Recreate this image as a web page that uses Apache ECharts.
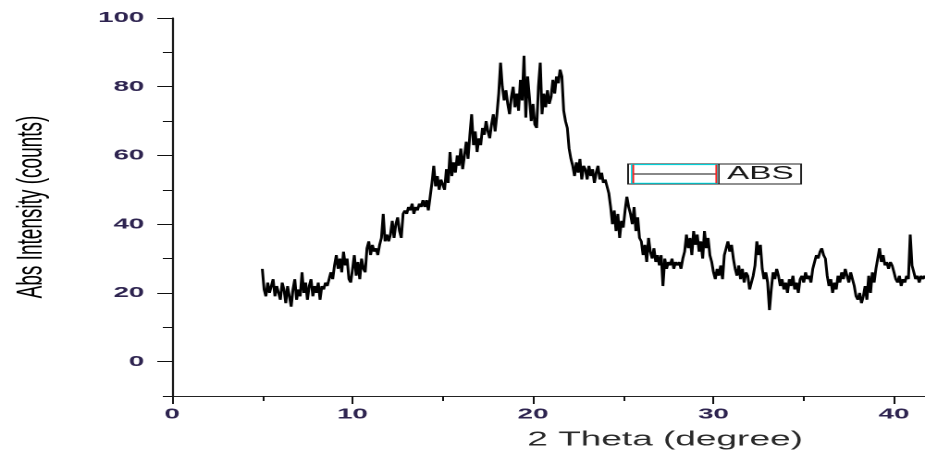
<!DOCTYPE html>
<html>
<head>
<meta charset="utf-8">
<script src="https://cdn.jsdelivr.net/npm/echarts@6/dist/echarts.min.js"></script>
<style>
  html, body { margin: 0; padding: 0; background: #fff; overflow: hidden; }
  #wrap { width: 925px; height: 453px; overflow: hidden; }
  #chart { width: 500px; height: 453px; transform: scaleX(1.85); transform-origin: 0 0; }
</style>
</head>
<body>
<div id="wrap"><div id="chart"></div></div>
<script>
// ---- data ----
const seriesName = 'ABS';
const thetaStart = 5.0;      // first 2-theta value (degree)
const thetaStep = 0.1;       // sampling step (degree)
const intensity = [
  27,21,19,23,20,22,24,19,22,20,
  18,23,21,17,22,19,16,21,24,18,
  21,19,26,20,23,18,22,24,19,22,
  20,23,18,22,21,23,22,24,26,24,
  28,31,27,30,26,32,28,30,24,23,
  27,31,25,29,24,30,27,26,33,35,
  31,34,32,33,31,34,36,43,35,37,
  35,37,41,36,40,42,38,36,43,44,
  43,45,44,46,43,45,44,46,45,47,
  45,47,44,48,52,57,51,54,50,53,
  53,50,56,52,61,54,58,55,60,57,
  62,56,60,64,59,66,72,63,67,61,
  65,63,68,66,70,67,65,69,72,67,
  72,78,87,80,76,79,75,72,77,80,
  74,78,73,82,76,89,71,83,77,70,
  75,69,68,80,87,72,78,74,79,75,
  77,82,78,83,81,85,83,73,70,68,
  62,59,57,54,58,55,59,53,57,56,
  53,57,54,56,52,55,57,53,55,52,
  53,51,49,45,40,44,38,43,36,41,
  39,44,48,45,43,40,45,38,42,36,
  35,31,34,29,36,32,30,33,29,31,
  28,31,22,30,27,29,28,30,27,29,
  28,29,27,30,32,37,33,36,31,38,
  34,37,32,35,30,38,33,36,31,29,
  26,24,27,25,28,24,31,33,35,32,
  34,30,27,25,28,24,27,23,26,25,
  21,23,25,28,35,31,34,27,24,26,
  23,15,21,26,24,27,25,22,24,21,
  23,20,24,22,25,21,23,20,24,25,
  23,26,24,25,23,27,29,31,30,32,
  33,31,30,25,22,24,20,23,21,25,
  23,26,24,27,25,23,26,24,22,19,
  18,20,17,19,22,18,25,20,26,23,
  27,30,33,29,31,28,29,27,29,28,
  26,24,23,25,22,24,23,25,24,37,
  28,26,24,25,23,25,24,25,24
];
const xMajorTicks = [0, 10, 20, 30, 40];
const xMinorTicks = [5, 15, 25, 35];
const yMajorTicks = [0, 20, 40, 60, 80, 100];
const yMinorTicks = [-10, 10, 30, 50, 70, 90];
const xAxisTitle = '2 Theta (degree)';
const yAxisTitle = 'Abs Intensity (counts)';

// ---- chart ----
const points = intensity.map((v, i) => [Math.round((thetaStart + thetaStep * i) * 100) / 100, v]);
const labelColor = '#2e2450';
const xMin = 0, xMax = 41.72, yMin = -10, yMax = 100;

const chart = echarts.init(document.getElementById('chart'), null, { renderer: 'canvas', devicePixelRatio: 2 });
chart.setOption({
  animation: false,
  backgroundColor: '#fff',
  grid: { left: 93, right: 0, top: 18, bottom: 57, containLabel: false, outerBoundsMode: 'none' },
  legend: {
    data: [seriesName],
    left: 339.5, top: 164,
    orient: 'horizontal',
    padding: [1, 4, 1, 2],
    borderColor: '#222', borderWidth: 1,
    itemWidth: 46, itemHeight: 18, itemGap: 0,
    lineStyle: { width: 1, color: '#111' },
    itemStyle: { opacity: 0 },
    textStyle: { fontFamily: 'Liberation Sans, Arial, sans-serif', fontSize: 18, color: '#1a1a1a', padding: [0, 0, 0, 0] },
    selectedMode: false
  },
  xAxis: [
    {
      type: 'value', min: xMin, max: xMax, position: 'bottom',
      name: xAxisTitle, nameLocation: 'middle', nameGap: 34,
      nameTextStyle: { fontFamily: 'Liberation Sans, Arial, sans-serif', fontSize: 20, color: '#2a2a2a', padding: [0, 0, 0, 126] },
      axisLine: { show: true, onZero: false, lineStyle: { color: '#222', width: 1 } },
      axisTick: { show: true, customValues: xMajorTicks, length: 8, lineStyle: { color: '#111', width: 1 } },
      axisLabel: { show: true, customValues: xMajorTicks, margin: 11, fontFamily: 'Liberation Sans, Arial, sans-serif', fontWeight: 'bold', fontSize: 15, color: labelColor },
      splitLine: { show: false }
    },
    {
      type: 'value', min: xMin, max: xMax, position: 'bottom',
      axisLine: { show: false, onZero: false },
      axisTick: { show: true, customValues: xMinorTicks, length: 5, lineStyle: { color: '#111', width: 1 } },
      axisLabel: { show: false },
      splitLine: { show: false }
    }
  ],
  yAxis: [
    {
      type: 'value', min: yMin, max: yMax, position: 'left',
      name: yAxisTitle, nameLocation: 'middle', nameGap: 66, nameRotate: 90,
      nameTextStyle: { fontFamily: 'Liberation Sans Narrow, Arial Narrow, Liberation Sans, sans-serif', fontSize: 19, color: '#000' },
      axisLine: { show: true, onZero: false, lineStyle: { color: '#111', width: 1.1 } },
      axisTick: { show: true, customValues: yMajorTicks, length: 8, lineStyle: { color: '#111', width: 1 } },
      axisLabel: { show: true, customValues: yMajorTicks, margin: 15, fontFamily: 'Liberation Sans, Arial, sans-serif', fontWeight: 'bold', fontSize: 15, color: labelColor },
      splitLine: { show: false }
    },
    {
      type: 'value', min: yMin, max: yMax, position: 'left',
      axisLine: { show: false, onZero: false },
      axisTick: { show: true, customValues: yMinorTicks, length: 5, lineStyle: { color: '#111', width: 1 } },
      axisLabel: { show: false },
      splitLine: { show: false }
    }
  ],
  graphic: [
    { type: 'rect', z: 100, shape: { x: 341.5, y: 164.6, width: 46, height: 18.6 }, style: { fill: 'none', stroke: '#00e8f0', lineWidth: 1 } },
    { type: 'line', z: 101, shape: { x1: 342.3, y1: 164.6, x2: 342.3, y2: 183.2 }, style: { stroke: '#ff2020', lineWidth: 1 } },
    { type: 'line', z: 101, shape: { x1: 387.2, y1: 164.6, x2: 387.2, y2: 183.2 }, style: { stroke: '#ff2020', lineWidth: 1 } },
    { type: 'line', z: 101, shape: { x1: 388.6, y1: 164, x2: 388.6, y2: 184 }, style: { stroke: '#222', lineWidth: 0.8 } }
  ],
  series: [
    {
      name: seriesName, type: 'line', xAxisIndex: 0, yAxisIndex: 0,
      data: points, symbol: 'none', showSymbol: false, clip: true,
      lineStyle: { color: '#000', width: 1.5 },
      itemStyle: { color: '#000' }
    }
  ]
});
</script>
</body>
</html>
